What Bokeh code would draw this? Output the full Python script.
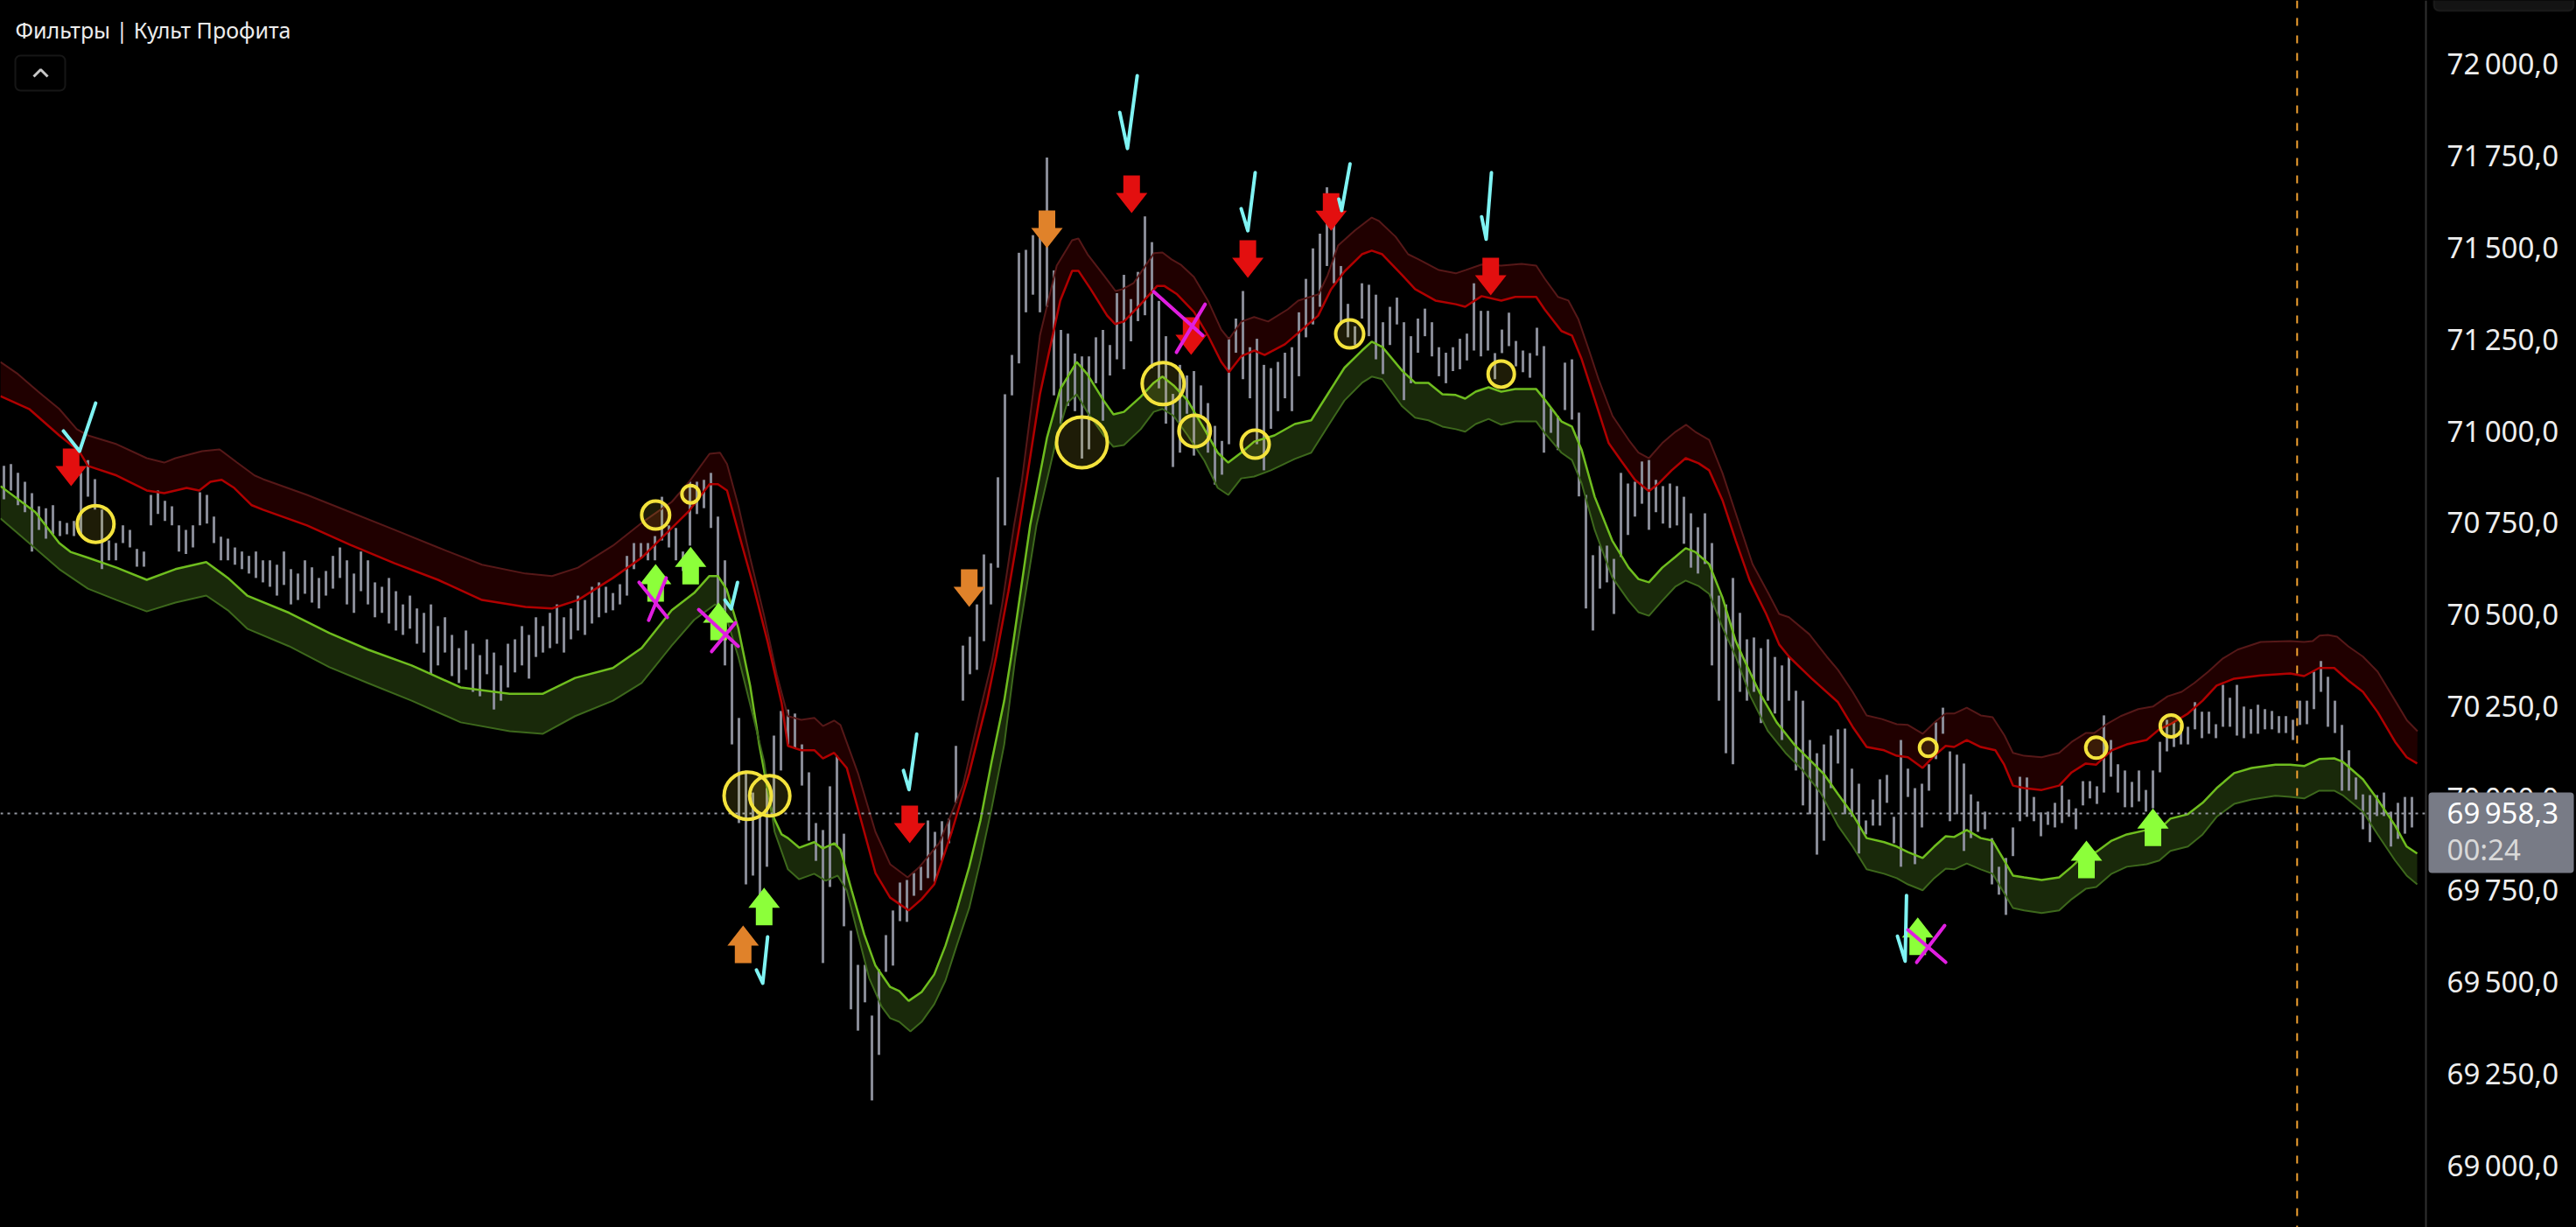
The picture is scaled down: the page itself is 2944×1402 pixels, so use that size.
from bokeh.plotting import figure
from bokeh.models import Range1d, Span, Label, BoxAnnotation, GlobalInlineStyleSheet
from bokeh.core.properties import value
from bokeh.embed import file_html
from bokeh.resources import INLINE

# ---------------- data ----------------
TITLE = "Фильтры | Культ Профита"
CURRENT_PRICE = 69958.3
CURRENT_PRICE_TEXT = "69\u2009958,3"
TIMER_TEXT = "00:24"
SESSION_BAR = 327.6

PRICE_TICKS = [69000, 69250, 69500, 69750, 70000, 70250, 70500, 70750,
               71000, 71250, 71500, 71750, 72000]
TICK_LABELS = ["69\u2009000,0", "69\u2009250,0", "69\u2009500,0", "69\u2009750,0",
               "70\u2009000,0", "70\u2009250,0", "70\u2009500,0", "70\u2009750,0",
               "71\u2009000,0", "71\u2009250,0", "71\u2009500,0", "71\u2009750,0",
               "72\u2009000,0"]

BAR_HIGH = [
70904,70909,70885,70861,70830,70794,70789,70797,70754,70749,
70754,70885,70920,70868,70785,70701,70694,70742,70730,70678,
70671,70825,70837,70809,70794,70742,70730,70742,70832,70825,
70766,70711,70706,70682,70671,70659,70671,70647,70647,70635,
70671,70623,70611,70647,70628,70599,70618,70659,70682,70647,
70611,70671,70647,70587,70575,70599,70563,70527,70551,70516,
70504,70527,70468,70492,70444,70408,70456,70420,70389,70432,
70396,70361,70420,70432,70468,70444,70492,70468,70504,70527,
70492,70516,70551,70539,70575,70587,70575,70558,70582,70659,
70694,70694,70694,70713,70820,70742,70735,70671,70861,70861,
70866,70885,70766,70647,70420,70218,70075,70015,69956,70027,
70170,70237,70241,70230,70146,70070,69932,69913,70032,70115,
69903,69639,69546,69546,69408,69534,69627,69694,69770,69777,
69796,69813,69939,69908,69937,69944,70142,70415,70439,70527,
70663,70639,70873,71099,71206,71484,71492,71532,71556,71743,
71436,71274,71264,71210,71202,71202,71254,71274,71233,71374,
71424,71358,71432,71583,71513,71353,71257,71100,71179,71150,
71162,71123,71075,71013,70972,71254,71305,71380,71227,71250,
71179,71170,71187,71212,71227,71322,71413,71496,71536,71662,
71631,71448,71345,71284,71401,71397,71370,71295,71337,71362,
71295,71257,71305,71332,71295,71227,71212,71227,71250,71264,
71401,71326,71326,71211,71275,71321,71244,71218,71211,71280,
71230,71061,71040,71185,71194,71049,70825,70661,70687,70687,
70651,70885,70856,70861,70916,70920,70866,70849,70856,70849,
70820,70775,70737,70775,70694,70551,70527,70599,70504,70432,
70437,70408,70432,70384,70361,70384,70292,70265,70158,70122,
70146,70170,70187,70189,70080,70039,69939,69996,70051,70063,
69949,70158,70080,70027,70039,70092,70206,70246,70127,70118,
70094,70010,69991,69963,69891,69813,69837,69920,70058,70056,
70003,69961,69963,69987,70034,69996,69972,70046,70046,70032,
70225,70158,70092,70075,70044,70075,70022,70075,70153,70213,
70206,70201,70194,70261,70235,70235,70201,70308,70273,70308,
70249,70242,70254,70242,70237,70223,70223,70213,70265,70265,
70344,70373,70330,70265,70199,70130,70056,70010,70008,70008,
70015,69963,69987,70003,70003]

BAR_LOW = [
70813,70837,70797,70778,70671,70730,70706,70718,70713,70718,
70713,70718,70820,70785,70623,70647,70647,70694,70682,70630,
70630,70742,70773,70754,70742,70671,70664,70682,70742,70747,
70694,70647,70647,70635,70623,70611,70599,70587,70575,70551,
70580,70527,70539,70556,70532,70516,70551,70570,70599,70527,
70504,70563,70527,70492,70504,70475,70456,70444,70461,70420,
70396,70337,70361,70396,70332,70313,70349,70289,70277,70337,
70241,70265,70301,70342,70361,70325,70384,70396,70408,70420,
70396,70432,70456,70444,70475,70492,70504,70511,70527,70551,
70623,70654,70647,70647,70701,70682,70647,70618,70687,70773,
70789,70735,70504,70361,70146,69932,69765,69789,69682,69813,
69956,70075,70146,70134,70034,69884,69829,69551,69758,69868,
69651,69425,69367,69444,69177,69301,69527,69544,69665,69663,
69734,69749,69782,69772,69829,69877,69987,70265,70337,70349,
70427,70527,70627,70742,71096,71183,71322,71370,71322,71337,
71096,71019,71067,71053,70924,70949,71129,71027,71150,71194,
71167,71243,71298,71314,71170,71115,71019,70901,70940,71046,
70932,71035,70940,70853,70880,70963,71212,71140,71088,70963,
70892,71005,71053,71088,71053,71148,71254,71289,71337,71448,
71401,71289,71254,71233,71305,71257,71194,71154,71233,71289,
71083,71129,71212,71257,71202,71148,71129,71162,71167,71191,
71218,71202,71218,71140,71211,71230,71175,71159,71144,71204,
70940,70994,70947,71056,71030,70821,70516,70456,70570,70587,
70501,70656,70716,70766,70801,70730,70778,70747,70735,70742,
70692,70627,70611,70637,70361,70265,70122,70092,70289,70265,
70289,70204,70265,70230,70158,70265,70075,69980,69956,69846,
69884,70027,70094,69956,69949,69849,69901,69925,69925,69987,
69877,69813,70003,69820,69920,70020,70106,70175,69937,69956,
69856,69891,69908,69915,69765,69737,69682,69842,69937,69949,
69937,69896,69927,69920,69932,69949,69915,69980,69999,69984,
70015,70058,70015,69975,69975,69991,69963,69972,70070,70127,
70139,70146,70146,70187,70163,70175,70163,70194,70194,70170,
70163,70175,70175,70187,70187,70177,70177,70158,70199,70201,
70242,70289,70194,70177,70020,70020,69996,69915,69880,69951,
69951,69868,69889,69903,69920]

# upper (resistance) band: outer edge and inner edge, (bar, price)
RED_TOP = [(-0.5,71187),(2,71154),(4.9,71106),(7.9,71059),(10.4,71004),(12,70987),(16.1,70963),(20.4,70925),(22.9,70913),(24.5,70925),(28.3,70944),(30.8,70949),(33.3,70913),(35.8,70878),(37,70868),(43.3,70825),(49.5,70778),(55.8,70730),(62,70682),(68.3,70635),(74.5,70611),(78.3,70604),(82,70627),(87,70687),(91.1,70749),(95.4,70806),(97.9,70861),(100.8,70937),(102.3,70940),(103.3,70909),(104.9,70797),(106.6,70654),(108.6,70496),(110.4,70337),(112,70223),(113.9,70213),(115.8,70218),(117,70196),(118.6,70211),(119.5,70199),(122,70068),(124.5,69908),(126.6,69820),(129.1,69784),(130.8,69813),(133.6,69877),(137,70034),(139.5,70242),(141.1,70368),(142.6,70527),(144.3,70742),(145.4,70861),(147,71099),(148,71259),(150.4,71449),(152.6,71518),(153.5,71523),(154.8,71480),(157.1,71423),(158.8,71380),(159.8,71385),(161.4,71402),(164.3,71483),(165.5,71485),(166.8,71466),(168.1,71452),(170,71418),(172,71354),(173.9,71275),(175,71249),(176.8,71297),(178.6,71309),(180.6,71297),(183.4,71330),(184.9,71354),(187.8,71371),(189.1,71423),(190.6,71504),(193,71545),(195.4,71580),(196.4,71571),(198.8,71528),(200.6,71480),(202.1,71466),(205,71437),(207.4,71428),(208.8,71437),(211.1,71452),(213.9,71449),(216.8,71454),(218.9,71449),(220.1,71414),(222,71364),(223.5,71354),(224.9,71304),(226.4,71221),(227.8,71140),(229.8,71040),(232.1,70975),(233.5,70940),(235,70925),(236.9,70966),(238.8,70997),(240.3,71016),(241.6,70997),(243.6,70975),(245.5,70885),(247.4,70775),(249.8,70637),(252.1,70556),(253.6,70501),(255,70492),(257.9,70446),(260.4,70385),(262,70349),(264.1,70289),(266.1,70225),(268.3,70215),(270.4,70201),(272,70199),(274.1,70175),(276.1,70211),(277.4,70230),(278.6,70230),(280.4,70246),(282.4,70225),(284.1,70220),(285.8,70170),(287,70123),(288.6,70115),(291.1,70111),(293.6,70123),(295.4,70153),(297.4,70177),(298.6,70177),(300.4,70201),(302.4,70223),(304.9,70242),(307,70249),(309.1,70277),(311.1,70289),(312.9,70313),(314.9,70344),(317,70380),(319.1,70404),(322.4,70425),(326.6,70427),(328.6,70425),(329.8,70427),(330.8,70442),(332,70444),(333.3,70439),(334.9,70413),(337,70385),(339.1,70344),(341.6,70265),(343.3,70211),(344.8,70182)]

RED_BOT = [(-0.5,71094),(3.6,71059),(7.9,70987),(10.75,70944),(12,70904),(16.1,70878),(20.4,70837),(22.9,70830),(26.1,70844),(27.9,70837),(29.5,70861),(31.1,70866),(32.9,70844),(35.4,70797),(37,70785),(43.3,70742),(49.5,70689),(55.8,70639),(62,70594),(68.3,70539),(74.5,70520),(78.3,70516),(82,70539),(87,70599),(91.1,70654),(95.4,70735),(97.9,70782),(100.8,70854),(102,70854),(103.3,70837),(104.9,70725),(107,70582),(109.1,70425),(111.1,70258),(112,70142),(113.9,70130),(115.8,70130),(117,70108),(118.6,70123),(120.4,70082),(122.9,69908),(124.5,69796),(126.6,69729),(129.25,69694),(131.1,69725),(132.9,69765),(135.4,69908),(137.9,70068),(140.4,70258),(141.75,70385),(143.5,70563),(145.1,70742),(148,71099),(150.9,71354),(152.6,71435),(153.5,71435),(155.25,71385),(157.6,71313),(158.75,71290),(160,71297),(162.4,71344),(164.75,71394),(165.75,71394),(167.6,71371),(170,71323),(172,71259),(173.9,71187),(175,71159),(176.75,71202),(178.6,71218),(180.1,71206),(183,71235),(184.9,71266),(187.75,71313),(189.6,71385),(191.5,71433),(194,71480),(195.4,71490),(196.9,71480),(199.75,71423),(201.6,71385),(204.5,71354),(207.4,71344),(208.75,71337),(211.1,71366),(213.9,71354),(215.9,71364),(218.9,71364),(220.1,71330),(222.5,71271),(224,71259),(225.4,71194),(227.25,71085),(229.25,70966),(231.1,70916),(233,70866),(235,70835),(236.4,70856),(238.25,70892),(240.25,70925),(242.1,70911),(243.6,70892),(245.5,70811),(247.4,70701),(249.4,70592),(251.75,70501),(253.6,70418),(255,70385),(258.25,70325),(262,70261),(264.1,70194),(266.1,70139),(268.6,70130),(270.4,70115),(272,70111),(274.1,70082),(275.75,70115),(277.4,70142),(278.6,70139),(280.4,70158),(282.4,70139),(284.5,70130),(285.75,70091),(287,70034),(288.6,70027),(291.1,70022),(293.6,70034),(295.4,70070),(297.4,70094),(298.9,70091),(301.1,70130),(303.25,70146),(306.1,70158),(307.9,70187),(309.5,70201),(312,70230),(314.1,70265),(316.1,70306),(318.6,70325),(322.4,70334),(326.6,70339),(328.6,70332),(330.75,70354),(332.9,70354),(334.9,70320),(337,70289),(339.1,70234),(341.6,70153),(343.25,70111),(344.75,70094)]

# lower (support) band: inner edge and outer edge, (bar, price)
GRN_TOP = [(-0.5,70849),(4.5,70778),(7.9,70694),(9.5,70670),(12,70654),(16.1,70627),(20.4,70594),(24.5,70623),(28.9,70642),(32,70599),(34.75,70551),(40.75,70504),(46.5,70449),(52,70404),(58.25,70361),(65.25,70301),(72.25,70284),(77,70284),(81.6,70327),(87,70354),(91.1,70408),(95.4,70511),(98.6,70558),(100.75,70604),(102,70604),(103.25,70568),(104.9,70463),(106.6,70306),(107.9,70146),(109.75,69956),(111.1,69901),(112,69891),(113.6,69865),(115.75,69880),(117,69863),(118.6,69877),(119.5,69860),(121.1,69749),(122.9,69629),(124.5,69544),(126.6,69486),(127.9,69475),(129.25,69448),(131.1,69472),(132.9,69520),(134.5,69598),(136.1,69694),(137.9,69813),(139.5,69939),(141.1,70099),(142.9,70265),(143.9,70385),(146.6,70742),(149,70980),(150.9,71113),(153.25,71187),(154.75,71154),(157.1,71082),(158.5,71044),(160,71051),(162.4,71092),(164.25,71130),(165.5,71147),(167.1,71123),(169.1,71082),(171.5,71004),(173.4,70940),(174.9,70913),(176.75,70940),(178.6,70970),(181.5,70987),(184.4,71018),(186.75,71028),(189.1,71099),(191.5,71171),(194,71218),(195.4,71242),(196.9,71228),(199.75,71163),(201.6,71130),(203.5,71130),(205.5,71099),(207.4,71097),(208.75,71087),(210.25,71106),(212.1,71118),(213.9,71106),(215.9,71113),(218.9,71113),(220.1,71085),(222.5,71025),(224,71011),(225.4,70947),(227.25,70820),(229.75,70701),(232.1,70627),(233.5,70596),(235,70587),(236.9,70627),(238.75,70656),(240.25,70680),(241.6,70670),(243.6,70637),(245.5,70546),(247.4,70427),(248.4,70385),(250.75,70289),(253.25,70206),(255.75,70146),(258.25,70099),(260.1,70063),(262,70011),(264.1,69956),(266.1,69891),(268.6,69880),(270.4,69868),(272,69853),(274.1,69837),(275.75,69868),(277.4,69896),(278.6,69894),(280.4,69913),(282.4,69891),(284.1,69884),(285.75,69830),(287,69789),(288.6,69784),(291.1,69777),(293.6,69784),(295.4,69813),(297.4,69849),(298.9,69853),(301.1,69884),(303.25,69901),(306.1,69913),(307.9,69915),(309.5,69944),(312,69956),(314.1,69987),(316.1,70027),(318.6,70068),(321.1,70082),(324.5,70091),(326.6,70091),(328.6,70087),(330.75,70106),(332.9,70108),(334.1,70099),(337,70051),(339.1,69996),(341.6,69925),(343.25,69868),(344.75,69849)]

GRN_BOT = [(-0.5,70761),(3.6,70694),(7.9,70623),(12,70570),(16.1,70539),(20.4,70508),(24.5,70532),(28.9,70551),(32,70511),(34.75,70461),(40.75,70413),(46.5,70356),(52,70313),(58.25,70265),(65.25,70206),(72.25,70182),(77,70175),(81.6,70223),(87,70265),(91.1,70313),(95.4,70415),(98.6,70485),(101.6,70527),(102.9,70511),(104.9,70385),(107,70225),(108.6,70099),(110.1,69908),(112,69806),(113.6,69779),(115.75,69794),(117.4,69775),(119.1,69789),(120.4,69749),(122,69629),(123.6,69510),(125.4,69432),(126.6,69401),(127.9,69391),(129.5,69365),(131.1,69391),(132.9,69439),(134.5,69503),(136.1,69598),(137.9,69701),(139.5,69830),(141.1,69972),(142.9,70146),(144.5,70385),(147.5,70742),(150.4,70980),(151.9,71075),(153.25,71099),(154.75,71051),(157.1,70987),(158.5,70956),(160,70961),(162.4,71004),(164.25,71051),(165.5,71059),(167.1,71040),(169.1,70987),(171.5,70918),(173.4,70844),(174.9,70825),(176.75,70870),(178.6,70875),(181,70892),(184.4,70923),(186.75,70940),(189.1,71011),(191.5,71082),(194,71130),(195.4,71147),(196.9,71140),(199.75,71066),(201.6,71035),(203.5,71028),(205.5,71011),(207.4,71004),(208.75,70997),(210.25,71018),(212.1,71032),(213.9,71016),(215.9,71025),(218.9,71025),(220.1,70994),(222.5,70940),(224,70920),(225.4,70856),(227.25,70730),(229.75,70601),(232.1,70537),(233.5,70506),(235,70496),(236.9,70537),(238.75,70575),(240.25,70592),(242.1,70577),(243.6,70556),(245.5,70465),(247.4,70385),(249.5,70277),(252,70182),(254.5,70123),(257,70075),(259.5,70015),(262,69925),(264.1,69868),(266.1,69806),(268.6,69794),(270.4,69782),(272,69765),(274.1,69749),(275.75,69782),(277.4,69808),(278.6,69806),(280.4,69822),(282.4,69806),(284.1,69794),(285.75,69741),(287,69701),(288.6,69694),(291.1,69687),(293.6,69694),(295.4,69725),(297.4,69753),(298.9,69758),(301.1,69794),(303.25,69813),(306.1,69820),(307.9,69830),(309.5,69856),(312,69868),(314.1,69901),(316.1,69949),(318.6,69984),(321.1,69996),(324.5,70006),(326.6,70003),(328.6,69999),(330.75,70020),(332.9,70020),(334.1,70008),(337,69963),(339.1,69901),(341.6,69830),(343.25,69789),(344.75,69765)]

# signals (bar, price of arrow tip)
SELL_X = [9.6, 161.1, 177.7, 189.6, 212.4, 169.6, 129.4]
SELL_Y = [70849, 71592, 71416, 71544, 71368, 71206, 69877]
WARN_DOWN_X = [149, 137.9]
WARN_DOWN_Y = [71497, 70520]
WARN_UP_X = [105.6]
WARN_UP_Y = [69653]
BUY_X = [93.1, 98.1, 102.1, 108.6, 273.4, 297.5, 307]
BUY_Y = [70637, 70684, 70532, 69756, 69675, 69884, 69972]

CIRCLE_X = [13.1, 93.1, 98.1, 106.25, 109.4, 154, 165.6, 170.1, 178.75, 192.25, 213.9, 274.9, 298.9, 309.6]
CIRCLE_Y = [70746, 70770, 70827, 70006, 70006, 70968, 71128, 70999, 70963, 71263, 71154, 70137, 70137, 70196]
CIRCLE_SIZE = [21, 16, 10, 27, 23, 29, 24, 18, 16, 16, 15, 10, 12, 12.5]

CHECKS = [
    [(8.5, 70999), (10.8, 70944), (13.1, 71075)],
    [(159.4, 71866), (160.5, 71768), (161.9, 71966)],
    [(176.75, 71604), (177.7, 71544), (178.75, 71702)],
    [(190.7, 71630), (191.1, 71599), (192.3, 71726)],
    [(211.1, 71582), (211.75, 71521), (212.5, 71702)],
    [(103.0, 70539), (103.9, 70515), (104.8, 70587)],
    [(128.5, 70075), (129.3, 70023), (130.4, 70174)],
    [(107.5, 69532), (108.4, 69496), (109.1, 69622)],
    [(270.5, 69624), (271.6, 69556), (271.8, 69735)],
]
CROSSES = [
    [(90.75, 70587), (94.75, 70492)], [(94.6, 70599), (92.1, 70484)],
    [(99.25, 70513), (104.9, 70413)], [(104.5, 70477), (101.1, 70399)],
    [(164.25, 71378), (171.25, 71259)], [(171.6, 71344), (167.5, 71213)],
    [(272.0, 69641), (277.4, 69553)], [(277.25, 69653), (273.25, 69553)],
]

# ---------------- layout constants ----------------
W, H = 2944, 1402
PANE_W = 2772          # width of the price pane; the price scale sits to its right
PX_PER_BAR = 8.0
PRICE_PER_PX = 2.3819
X_START = -0.5
Y_TOP = 72170.8
X_END = X_START + W / PX_PER_BAR
Y_BOTTOM = Y_TOP - H * PRICE_PER_PX


def sx(px):
    return X_START + px / PX_PER_BAR


def sy(py):
    return Y_TOP - py * PRICE_PER_PX


FONT = "Noto Sans"

p = figure(width=W, height=H, x_range=Range1d(X_START, X_END), y_range=Range1d(Y_BOTTOM, Y_TOP),
           output_backend="svg", toolbar_location=None, x_axis_location=None, y_axis_location=None,
           background_fill_color="#000000", border_fill_color="#000000",
           min_border_left=0, min_border_top=0, min_border_bottom=0, min_border_right=0)
p.outline_line_color = None
p.grid.visible = False
p.stylesheets = [GlobalInlineStyleSheet(css="html,body{margin:0;padding:0;background:#000;overflow:hidden;}")]


def unzip(pairs):
    return [a for a, _ in pairs], [b for _, b in pairs]


rtx, rty = unzip(RED_TOP)
rbx, rby = unzip(RED_BOT)
gtx, gty = unzip(GRN_TOP)
gbx, gby = unzip(GRN_BOT)

# band fills
p.patch(rtx + rbx[::-1], rty + rby[::-1], fill_color="#200000", line_color=None)
p.patch(gtx + gbx[::-1], gty + gby[::-1], fill_color="#19290a", line_color=None)

# bars
idx = list(range(len(BAR_HIGH)))
p.segment(x0=idx, y0=BAR_LOW, x1=idx, y1=BAR_HIGH, line_color="#878a95", line_width=3)

# band lines
p.line(rtx, rty, line_color="#561818", line_width=2)
p.line(rbx, rby, line_color="#b00000", line_width=2.5)
p.line(gtx, gty, line_color="#6fbd1f", line_width=2.5)
p.line(gbx, gby, line_color="#3d681c", line_width=2)

# last-price dotted line across the pane and session separator
p.segment(x0=[X_START], y0=[CURRENT_PRICE], x1=[sx(PANE_W)], y1=[CURRENT_PRICE],
          line_color="#9598a1", line_dash="3 5", line_width=2)
p.add_layout(Span(location=SESSION_BAR, dimension="height", line_color="#f0a030",
                  line_dash="9 11", line_width=2))

# circles
p.scatter(CIRCLE_X, CIRCLE_Y, size=[2 * r for r in CIRCLE_SIZE], marker="circle",
          line_color="#f4e33c", line_width=4, fill_color="#f4e33c", fill_alpha=0.12)

# arrows
HEAD_HW = 18 / PX_PER_BAR
SHAFT_HW = 9.5 / PX_PER_BAR
HEAD_H = 23 * PRICE_PER_PX
TOTAL_H = 43 * PRICE_PER_PX


def arrow_shapes(xs, ys, up):
    d = -1 if up else 1
    out_x, out_y = [], []
    for x, t in zip(xs, ys):
        out_x.append([x, x + HEAD_HW, x + SHAFT_HW, x + SHAFT_HW, x - SHAFT_HW, x - SHAFT_HW, x - HEAD_HW])
        out_y.append([t, t + d * HEAD_H, t + d * HEAD_H, t + d * TOTAL_H, t + d * TOTAL_H, t + d * HEAD_H, t + d * HEAD_H])
    return out_x, out_y


for xs, ys, up, col in [(SELL_X, SELL_Y, False, "#e30f0f"), (WARN_DOWN_X, WARN_DOWN_Y, False, "#e0822a"),
                        (WARN_UP_X, WARN_UP_Y, True, "#e0822a"), (BUY_X, BUY_Y, True, "#8cff3a")]:
    ax_, ay_ = arrow_shapes(xs, ys, up)
    p.patches(ax_, ay_, fill_color=col, line_color=None)

# hand-drawn marks
p.multi_line([[a for a, _ in c] for c in CHECKS], [[b for _, b in c] for c in CHECKS],
             line_color="#7ff3f3", line_width=4, line_cap="round", line_join="round")
p.multi_line([[a for a, _ in c] for c in CROSSES], [[b for _, b in c] for c in CROSSES],
             line_color="#e01ee0", line_width=4, line_cap="round")

# ---------------- price scale (right) ----------------
p.add_layout(Span(location=sx(PANE_W), dimension="height", line_color="#303030", line_width=2))
p.text(x=[sx(2796)] * len(PRICE_TICKS), y=PRICE_TICKS, text=TICK_LABELS,
       text_font=value(FONT), text_font_size=value("33px"), text_color="#eeeeee",
       text_baseline="middle", text_align="left")

# last price box on the scale
p.add_layout(BoxAnnotation(left=sx(2775), right=sx(2941), top=sy(905), bottom=sy(997),
                           fill_color="#787b86", fill_alpha=1.0, line_color=None, border_radius=4))
p.add_layout(Label(x=sx(2796), y=sy(928), text=CURRENT_PRICE_TEXT, text_font=FONT, text_font_size="33px",
                   text_color="#ffffff", text_baseline="middle"))
p.add_layout(Label(x=sx(2796), y=sy(970), text=TIMER_TEXT, text_font=FONT, text_font_size="33px",
                   text_color="#d9d9d9", text_baseline="middle"))

# top-right partial button
p.add_layout(BoxAnnotation(left=sx(2781), right=sx(2941), top=sy(-12), bottom=sy(12),
                           fill_color="#141414", fill_alpha=1.0, line_color="#3c3c3c", line_width=2,
                           border_radius=6))

# title and collapse button
p.add_layout(Label(x=sx(17), y=sy(33), text=TITLE, text_font=FONT, text_font_size="25px",
                   text_color="#ececec", text_baseline="middle"))
p.add_layout(BoxAnnotation(left=sx(17), right=sx(74), top=sy(63), bottom=sy(103),
                           fill_alpha=0, line_color="#4a4a4a", line_width=2, border_radius=6))
p.line([sx(38), sx(46), sx(54)], [sy(87), sy(79), sy(87)], line_color="#c8c8c8", line_width=3)

open("out.html", "w").write(file_html(p, INLINE))
